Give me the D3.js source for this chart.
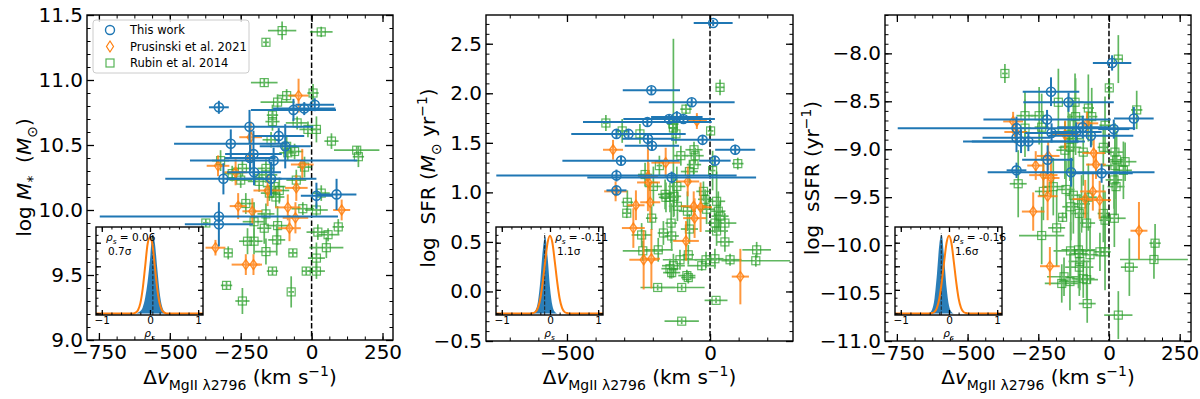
<!DOCTYPE html>
<html>
<head>
<meta charset="utf-8">
<script src="https://cdn.jsdelivr.net/npm/d3@7"></script>
<style>
body { margin: 0; background: #fff; }
text { font-family: "DejaVu Sans", sans-serif; }
</style>
</head>
<body>
<svg id="chart" width="1200" height="399"></svg>
<script>
// ---- this work (blue) : same galaxies in all three panels, dv shared
var blueV = [-327, -327, -327, -311, -285, -219, -217, -205, -203, -143, -134, -116, -93, -64, -26, 11, 17, 88]
var blueVErr = [35, 420, 120, 205, 200, 225, 90, 100, 95, 160, 295, 90, 90, 150, 110, 68, 55, 70]
var blueMass = [10.79, 9.95, 9.89, 10.24, 10.51, 10.64, 10.40, 10.43, 10.29, 10.24, 10.38, 10.57, 10.49, 10.77, 10.78, 10.81, 10.11, 10.12]
var blueMassErr = [0.05, 0.04, 0.17, 0.12, 0.11, 0.13, 0.1, 0.18, 0.1, 0.13, 0.1, 0.06, 0.17, 0.085, 0.05, 0.05, 0.1, 0.12]
var blueSFR = [1.02, 1.17, 1.59, 1.32, 1.59, 1.71, 1.54, 2.03, 1.47, 1.74, 1.15, 1.76, 1.74, 1.91, 1.53, 2.71, 1.32, 1.43]
var blueSFRErr = [0.04, 0.06, 0.05, 0.05, 0.04, 0.04, 0.04, 0.04, 0.05, 0.05, 0.06, 0.06, 0.05, 0.04, 0.04, 0.03, 0.04, 0.05]
var blueSSFR = [-9.22, -8.78, -8.88, -8.92, -8.92, -8.69, -9.11, -8.40, -8.83, -8.51, -9.24, -8.82, -8.77, -8.86, -9.25, -8.10, -8.79, -8.68]
var blueSSFRErr = [0.08, 0.12, 0.15, 0.12, 0.1, 0.1, 0.15, 0.15, 0.1, 0.1, 0.15, 0.1, 0.12, 0.12, 0.1, 0.08, 0.1, 0.12]

// ---- Prusinski et al. 2021 (orange)
var orangeV = [-339, -330, -268, -259, -232, -217, -215, -209, -205, -155, -84, -78, -57, -54, -46, -33, 106]
var orangeVErr = [35, 40, 40, 30, 50, 35, 40, 35, 30, 50, 45, 40, 45, 40, 35, 40, 30]
var orangeMass = [9.71, 10.34, 10.29, 10.03, 9.58, 10.40, 10.56, 9.99, 9.58, 10.15, 10.02, 9.86, 9.94, 10.17, 10.88, 10.35, 10.00]
var orangeMassErr = [0.06, 0.08, 0.1, 0.1, 0.08, 0.1, 0.12, 0.1, 0.08, 0.12, 0.1, 0.1, 0.12, 0.1, 0.13, 0.12, 0.08]
var orangeSFR = [1.43, 1.01, 0.64, 0.87, 0.32, 1.16, 1.10, 0.90, 0.33, 1.30, 0.51, 1.11, 0.86, 0.74, 1.72, 0.85, 0.15]
var orangeSFRErr = [0.1, 0.1, 0.2, 0.15, 0.3, 0.35, 0.2, 0.2, 0.3, 0.15, 0.2, 0.15, 0.15, 0.2, 0.08, 0.25, 0.28]
var orangeSSFR = [-8.71, -8.82, -9.65, -9.17, -9.27, -9.49, -9.07, -10.22, -9.30, -8.85, -9.52, -8.73, -9.44, -9.04, -9.16, -9.53, -9.85]
var orangeSSFRErr = [0.1, 0.12, 0.2, 0.15, 0.2, 0.25, 0.15, 0.2, 0.2, 0.15, 0.2, 0.12, 0.2, 0.15, 0.15, 0.2, 0.3]

// ---- Rubin et al. 2014 (green), rows of [dv, dvErr, value, valueErr]
var greenMass = [
	[-104, 50, 11.38, 0.07], [34, 40, 11.37, 0.04], [-161, 10, 11.29, 0.03], [-167, 47, 10.98, 0.03],
	[5, 20, 10.90, 0.07], [-88, 30, 10.88, 0.05], [-120, 60, 10.83, 0.06], [-138, 20, 10.73, 0.08],
	[-138, 25, 10.68, 0.07], [17, 15, 10.62, 0.10], [70, 25, 10.53, 0.06], [-143, 30, 10.54, 0.06],
	[-88, 35, 10.49, 0.08], [159, 80, 10.46, 0.03], [165, 20, 10.41, 0.08], [-25, 25, 10.33, 0.08],
	[-321, 30, 10.38, 0.08], [-250, 40, 10.23, 0.06], [-161, 40, 10.27, 0.06], [-84, 30, 10.44, 0.06],
	[-51, 40, 10.67, 0.05], [-13, 30, 10.62, 0.06], [-60, 30, 10.45, 0.06], [-244, 35, 10.32, 0.06],
	[-161, 30, 10.32, 0.07], [-185, 40, 10.22, 0.08], [-54, 35, 10.23, 0.08], [-132, 40, 10.18, 0.07],
	[-114, 35, 10.15, 0.1], [-126, 30, 10.10, 0.08], [-149, 30, 10.13, 0.06], [34, 30, 10.13, 0.06],
	[-31, 40, 10.01, 0.05], [17, 40, 10.00, 0.05], [-161, 30, 9.97, 0.08], [-232, 30, 10.05, 0.08],
	[-203, 40, 9.91, 0.15], [-167, 25, 9.86, 0.12], [-120, 40, 9.88, 0.15], [22, 40, 9.83, 0.06],
	[58, 40, 9.81, 0.05], [94, 20, 9.87, 0.06], [-226, 30, 9.76, 0.1], [-203, 30, 9.76, 0.1],
	[-123, 30, 9.77, 0.12], [-161, 40, 9.68, 0.1], [-294, 15, 9.67, 0.05], [-66, 15, 9.67, 0.03],
	[52, 60, 9.71, 0.08], [17, 30, 9.63, 0.12], [-138, 20, 9.53, 0.03], [-19, 15, 9.53, 0.03],
	[17, 30, 9.53, 0.06], [-300, 20, 9.42, 0.03], [-72, 10, 9.37, 0.12], [-244, 25, 9.30, 0.1],
	[-373, 10, 9.90, 0.03], [-280, 30, 10.28, 0.06]
]
var greenSFR = [
	[35, 15, 2.06, 0.08], [-364, 10, 1.70, 0.08], [-84, 20, 1.84, 0.05], [-307, 20, 1.62, 0.12],
	[-245, 30, 1.59, 0.1], [-130, 20, 1.69, 0.1], [-128, 15, 1.65, 0.9], [-119, 25, 1.59, 0.1],
	[2, 10, 1.62, 0.05], [-56, 30, 1.43, 0.08], [-52, 30, 1.37, 0.08], [-56, 25, 1.28, 0.1],
	[-102, 25, 1.37, 0.1], [-177, 10, 1.27, 0.1], [9, 10, 1.22, 0.2], [97, 20, 1.29, 0.06],
	[-227, 25, 1.18, 0.12], [-72, 30, 1.21, 0.12], [-198, 30, 1.06, 0.2], [-116, 30, 1.06, 0.2],
	[-157, 25, 0.98, 0.15], [-154, 25, 0.95, 0.15], [-140, 30, 0.95, 0.15], [-126, 25, 0.96, 0.2],
	[-289, 20, 0.90, 0.12], [-291, 15, 0.79, 0.05], [-114, 30, 0.86, 0.15], [-79, 30, 0.81, 0.2],
	[-23, 25, 1.01, 0.1], [-17, 25, 0.93, 0.1], [-12, 30, 0.83, 0.15], [23, 30, 0.91, 0.3],
	[29, 25, 0.81, 0.2], [35, 30, 0.76, 0.15], [17, 25, 0.69, 0.1], [52, 40, 0.69, 0.1],
	[-204, 20, 0.74, 0.12], [-136, 20, 0.69, 0.2], [-72, 30, 0.63, 0.15], [23, 40, 0.61, 0.15],
	[-239, 35, 0.57, 0.12], [-163, 20, 0.59, 0.12], [-134, 25, 0.56, 0.15], [52, 30, 0.50, 0.1],
	[163, 50, 0.42, 0.08], [-235, 70, 0.41, 0.1], [-181, 50, 0.42, 0.12], [-105, 60, 0.32, 0.1],
	[-128, 40, 0.26, 0.12], [-76, 20, 0.37, 0.1], [-14, 40, 0.32, 0.08], [17, 30, 0.33, 0.1],
	[70, 40, 0.32, 0.06], [160, 120, 0.31, 0.06], [-29, 50, 0.26, 0.05], [-140, 30, 0.23, 0.1],
	[-134, 30, 0.19, 0.06], [-81, 30, 0.16, 0.06], [-76, 25, 0.14, 0.06], [-183, 60, 0.04, 0.03],
	[-99, 80, 0.04, 0.03], [21, 40, -0.09, 0.03], [-99, 60, -0.30, 0.03]
]
var greenSSFR = [
	[-368, 10, -8.21, 0.1], [33, 15, -8.06, 0.25], [1, 10, -8.36, 0.1], [-179, 20, -8.51, 0.35],
	[-120, 30, -8.51, 0.3], [-73, 20, -8.57, 0.35], [98, 20, -8.59, 0.2], [-297, 30, -8.65, 0.25],
	[-247, 30, -8.65, 0.3], [-61, 20, -8.66, 0.3], [-118, 30, -8.66, 0.4], [-297, 20, -8.78, 0.3],
	[-238, 25, -8.77, 0.35], [-14, 20, -8.75, 0.3], [-144, 30, -8.85, 0.4], [-126, 30, -8.89, 0.4],
	[-138, 40, -8.98, 0.35], [-156, 30, -9.01, 0.3], [-91, 20, -9.03, 0.35], [21, 30, -9.03, 0.3],
	[27, 30, -9.11, 0.3], [21, 40, -9.17, 0.35], [57, 40, -9.13, 0.2], [51, 30, -9.22, 0.3],
	[-20, 20, -8.98, 0.2], [-321, 30, -9.36, 0.35], [-232, 30, -9.44, 0.3], [-197, 40, -9.39, 0.3],
	[-152, 30, -9.42, 0.3], [-126, 30, -9.48, 0.4], [-135, 30, -9.60, 0.35], [-97, 30, -9.57, 0.3],
	[-73, 30, -9.50, 0.35], [18, 30, -9.32, 0.3], [25, 30, -9.39, 0.3], [-164, 15, -9.71, 0.05],
	[-105, 30, -9.67, 0.2], [19, 40, -9.72, 0.3], [-79, 30, -9.77, 0.3], [-20, 20, -9.67, 0.3],
	[-14, 20, -9.74, 0.3], [-185, 30, -9.82, 0.4], [-238, 80, -9.90, 0.3], [163, 20, -9.98, 0.2],
	[159, 120, -10.15, 0.2], [72, 30, -10.23, 0.3], [-136, 60, -10.06, 0.3], [-108, 60, -10.05, 0.4],
	[-105, 30, -10.09, 0.3], [-67, 30, -10.10, 0.3], [-32, 20, -10.07, 0.2], [-14, 20, -10.07, 0.4],
	[-103, 40, -10.17, 0.3], [-105, 50, -10.23, 0.3], [-159, 60, -10.33, 0.2], [-167, 60, -10.40, 0.2],
	[-138, 40, -10.38, 0.3], [-91, 40, -10.35, 0.2], [-79, 40, -10.36, 0.2], [-77, 30, -10.61, 0.2],
	[33, 50, -10.73, 0.25]
]

// ---- insets: bootstrapped rho_s (blue) vs null distribution (orange)
var rhoGrid = [-0.4, -0.35, -0.3, -0.25, -0.2, -0.15, -0.1, -0.05, 0, 0.05, 0.1, 0.15, 0.2, 0.25, 0.3, 0.35, 0.4]
var nullMass = [0, 0, 0.01, 0.04, 0.13, 0.32, 0.6, 0.88, 0.97, 0.88, 0.6, 0.32, 0.13, 0.04, 0.01, 0, 0]
var nullSFR = [0, 0.005, 0.02, 0.07, 0.19, 0.4, 0.66, 0.9, 0.99, 0.9, 0.66, 0.4, 0.19, 0.07, 0.02, 0.005, 0]
var nullSSFR = [0, 0.005, 0.02, 0.07, 0.19, 0.4, 0.66, 0.9, 0.99, 0.9, 0.66, 0.4, 0.19, 0.07, 0.02, 0.005, 0]
var bootMass = [0, 0, 0, 0.01, 0.03, 0.08, 0.2, 0.4, 0.68, 1.0, 0.9, 0.58, 0.27, 0.09, 0.02, 0, 0]
var bootSFR = [0, 0.01, 0.04, 0.15, 0.42, 0.8, 0.98, 0.72, 0.33, 0.1, 0.02, 0, 0, 0, 0, 0, 0]
var bootSSFR = [0.01, 0.05, 0.19, 0.5, 0.88, 1.0, 0.7, 0.33, 0.1, 0.02, 0, 0, 0, 0, 0, 0, 0]
var rhoValues = [0.06, -0.11, -0.16]
var rhoLabels = ['0.06', '-0.11', '-0.16']
var sigmaLabels = ['0.7σ', '1.1σ', '1.6σ']

// ---- tick labels
var dvTicks = [-750, -500, -250, 0, 250]
var dvTicksSFR = [-500, 0]
var massTicks = [9.0, 9.5, 10.0, 10.5, 11.0, 11.5]
var sfrTicks = [-0.5, 0.0, 0.5, 1.0, 1.5, 2.0, 2.5]
var ssfrTicks = [-11.0, -10.5, -10.0, -9.5, -9.0, -8.5, -8.0]
var insetTicks = [-1, 0, 1]

var legendNames = ['This work', 'Prusinski et al. 2021', 'Rubin et al. 2014']

var BLUE = '#1f77b4', ORANGE = '#ff7f0e', GREEN = '#2ca02c'

var svg = d3.select('#chart')

function rows(v, dv, y, dy) {
	return d3.zip(v, dv, y, dy)
}

var panels = [
	{
		left: 87, right: 393, top: 15, bottom: 340,
		xDomain: [-792, 287], yDomain: [9.0, 11.5],
		xTicks: dvTicks, xMinor: 62.5, yTicks: massTicks,
		blue: rows(blueV, blueVErr, blueMass, blueMassErr),
		orange: rows(orangeV, orangeVErr, orangeMass, orangeMassErr),
		green: greenMass,
		yLabel: [{t: 'log '}, {t: 'M', it: 1}, {t: '*', sub: 1}, {t: '  ('}, {t: 'M', it: 1}, {t: '⊙', sub: 1}, {t: ')'}],
		yLabelX: 31,
		inset: [96, 203], boot: bootMass, nul: nullMass, textX: 106
	},
	{
		left: 486, right: 793, top: 15, bottom: 341,
		xDomain: [-783, 290], yDomain: [-0.5, 2.79],
		xTicks: dvTicksSFR, xMinor: 100, yTicks: sfrTicks,
		blue: rows(blueV, blueVErr, blueSFR, blueSFRErr),
		orange: rows(orangeV, orangeVErr, orangeSFR, orangeSFRErr),
		green: greenSFR,
		yLabel: [{t: 'log  SFR ('}, {t: 'M', it: 1}, {t: '⊙', sub: 1}, {t: ' yr'}, {t: '−1', sup: 1}, {t: ')'}],
		yLabelX: 435,
		inset: [496, 603], boot: bootSFR, nul: nullSFR, textX: 555
	},
	{
		left: 885, right: 1191, top: 15, bottom: 341,
		xDomain: [-792, 290], yDomain: [-11.0, -7.6],
		xTicks: dvTicks, xMinor: 62.5, yTicks: ssfrTicks,
		blue: rows(blueV, blueVErr, blueSSFR, blueSSFRErr),
		orange: rows(orangeV, orangeVErr, orangeSSFR, orangeSSFRErr),
		green: greenSSFR,
		yLabel: [{t: 'log  sSFR (yr'}, {t: '−1', sup: 1}, {t: ')'}],
		yLabelX: 819,
		inset: [895, 1002], boot: bootSSFR, nul: nullSSFR, textX: 953
	}
]

// text with italic / sub / superscript runs
function richText(sel, runs, size) {
	var shift = 0
	runs.forEach(function(r) {
		var target = r.sub ? size * 0.28 : (r.sup ? -size * 0.38 : 0)
		var ts = sel.append('tspan').text(r.t).attr('dy', target - shift)
		if (r.sub || r.sup) ts.attr('font-size', size * 0.7)
		if (r.it) ts.attr('font-style', 'italic')
		shift = target
	})
	return sel
}

function diamond(cx, cy, w, h) {
	return 'M' + cx + ',' + (cy - h) + 'L' + (cx + w) + ',' + cy + 'L' + cx + ',' + (cy + h) + 'L' + (cx - w) + ',' + cy + 'Z'
}

function drawErrorbars(g, x, y, data, color, width, opacity) {
	var eb = g.append('g').attr('stroke', color).attr('stroke-width', width).attr('opacity', opacity)
	eb.selectAll('line.h').data(data).enter().append('line')
		.attr('x1', function(d) { return x(d[0] - d[1]) })
		.attr('x2', function(d) { return x(d[0] + d[1]) })
		.attr('y1', function(d) { return y(d[2]) })
		.attr('y2', function(d) { return y(d[2]) })
	eb.selectAll('line.v').data(data).enter().append('line')
		.attr('x1', function(d) { return x(d[0]) })
		.attr('x2', function(d) { return x(d[0]) })
		.attr('y1', function(d) { return y(d[2] - d[3]) })
		.attr('y2', function(d) { return y(d[2] + d[3]) })
}

function frameTicks(g, x, y, p, xMaj, xMin, yMaj, yMin, big, small) {
	var sides = [
		[d3.axisBottom(x), 'translate(0,' + p.bottom + ')', xMaj, xMin],
		[d3.axisTop(x), 'translate(0,' + p.top + ')', xMaj, xMin],
		[d3.axisLeft(y), 'translate(' + p.left + ',0)', yMaj, yMin],
		[d3.axisRight(y), 'translate(' + p.right + ',0)', yMaj, yMin]
	]
	sides.forEach(function(s) {
		var minor = g.append('g').attr('transform', s[1])
			.call(s[0].tickValues(s[3]).tickSizeInner(-small).tickSizeOuter(0).tickFormat(''))
		minor.select('.domain').remove()
		minor.selectAll('line').attr('stroke', '#000').attr('stroke-width', 1)
		var major = g.append('g').attr('transform', s[1])
			.call(s[0].tickValues(s[2]).tickSizeInner(-big).tickSizeOuter(0).tickFormat(''))
		major.select('.domain').remove()
		major.selectAll('line').attr('stroke', '#000').attr('stroke-width', 1.3)
	})
	g.append('rect')
		.attr('x', p.left).attr('y', p.top)
		.attr('width', p.right - p.left).attr('height', p.bottom - p.top)
		.attr('fill', 'none').attr('stroke', '#000').attr('stroke-width', 1.4)
}

function drawPanel(p, i) {
	var g = svg.append('g')
	var x = d3.scaleLinear().domain(p.xDomain).range([p.left, p.right])
	var y = d3.scaleLinear().domain(p.yDomain).range([p.bottom, p.top])

	g.append('clipPath').attr('id', 'clip' + i).append('rect')
		.attr('x', p.left).attr('y', p.top)
		.attr('width', p.right - p.left).attr('height', p.bottom - p.top)
	var plot = g.append('g').attr('clip-path', 'url(#clip' + i + ')')

	// dv = 0
	plot.append('line')
		.attr('x1', x(0)).attr('x2', x(0)).attr('y1', p.top).attr('y2', p.bottom)
		.attr('stroke', '#000').attr('stroke-width', 1.5).attr('stroke-dasharray', '5.5,2.4')

	// Rubin
	drawErrorbars(plot, x, y, p.green, GREEN, 1.7, 0.75)
	plot.append('g').selectAll('rect').data(p.green).enter().append('rect')
		.attr('x', function(d) { return x(d[0]) - 4 })
		.attr('y', function(d) { return y(d[2]) - 4 })
		.attr('width', 8).attr('height', 8)
		.attr('fill', 'none').attr('stroke', GREEN).attr('stroke-width', 1.2).attr('opacity', 0.75)

	// Prusinski
	drawErrorbars(plot, x, y, p.orange, ORANGE, 2, 0.8)
	plot.append('g').selectAll('path').data(p.orange).enter().append('path')
		.attr('d', function(d) { return diamond(x(d[0]), y(d[2]), 3.5, 5) })
		.attr('fill', 'none').attr('stroke', ORANGE).attr('stroke-width', 1.4).attr('opacity', 0.85)

	// this work
	drawErrorbars(plot, x, y, p.blue, BLUE, 2, 1)
	plot.append('g').selectAll('circle').data(p.blue).enter().append('circle')
		.attr('cx', function(d) { return x(d[0]) })
		.attr('cy', function(d) { return y(d[2]) })
		.attr('r', 4.5)
		.attr('fill', 'none').attr('stroke', BLUE).attr('stroke-width', 1.6)

	// ticks + frame
	var xMin = d3.range(Math.ceil(p.xDomain[0] / p.xMinor) * p.xMinor, p.xDomain[1], p.xMinor)
	var yMin = d3.range(Math.ceil(p.yDomain[0] * 10 - 1e-6), p.yDomain[1] * 10 + 1e-6).map(function(v) { return v / 10 })
	frameTicks(g, x, y, p, p.xTicks, xMin, p.yTicks, yMin, 7, 3.5)

	// tick labels
	var xl = g.append('g').attr('transform', 'translate(0,' + p.bottom + ')')
		.call(d3.axisBottom(x).tickValues(p.xTicks).tickSize(0).tickPadding(5).tickFormat(d3.format('d')))
	var yl = g.append('g').attr('transform', 'translate(' + p.left + ',0)')
		.call(d3.axisLeft(y).tickValues(p.yTicks).tickSize(0).tickPadding(4).tickFormat(d3.format('.1f')))
	;[xl, yl].forEach(function(a) {
		a.select('.domain').remove()
		a.selectAll('text').attr('font-size', 20).attr('font-family', '"DejaVu Sans", sans-serif').attr('fill', '#000')
	})

	// axis labels
	richText(g.append('text')
		.attr('x', (p.left + p.right) / 2).attr('y', 384)
		.attr('text-anchor', 'middle').attr('font-size', 20).style('white-space', 'pre'),
		[{t: 'Δ'}, {t: 'v', it: 1}, {t: 'MgII λ2796', sub: 1}, {t: ' (km s'}, {t: '−1', sup: 1}, {t: ')'}], 20)
	richText(g.append('text')
		.attr('transform', 'translate(' + p.yLabelX + ',' + ((p.top + p.bottom) / 2) + ') rotate(-90)')
		.attr('text-anchor', 'middle').attr('font-size', 20).style('white-space', 'pre'),
		p.yLabel, 20)

	drawInset(g, p, i)
}

function drawInset(g, p, i) {
	var top = 227, bottom = 315
	var ig = g.append('g')
	var ix = d3.scaleLinear().domain([-1.12, 1.1]).range(p.inset)
	var iy = d3.scaleLinear().domain([-0.02, 1.1]).range([bottom, top])

	ig.append('rect')
		.attr('x', p.inset[0]).attr('y', top)
		.attr('width', p.inset[1] - p.inset[0]).attr('height', bottom - top)
		.attr('fill', '#fff')

	var area = d3.area()
		.x(function(d) { return ix(d[0]) })
		.y0(iy(0))
		.y1(function(d) { return iy(d[1]) })
		.curve(d3.curveMonotoneX)
	ig.append('path').datum(d3.zip(rhoGrid, p.boot))
		.attr('d', area).attr('fill', BLUE).attr('opacity', 0.95)

	ig.append('line')
		.attr('x1', ix(rhoValues[i])).attr('x2', ix(rhoValues[i]))
		.attr('y1', bottom).attr('y2', top + 6)
		.attr('stroke', '#222').attr('stroke-width', 1).attr('stroke-dasharray', '3.5,1.6')

	var line = d3.line()
		.x(function(d) { return ix(d[0]) })
		.y(function(d) { return iy(d[1]) })
		.curve(d3.curveMonotoneX)
	var pts = [[-1.12, 0]].concat(d3.zip(rhoGrid, p.nul)).concat([[1.1, 0]])
	ig.append('path').datum(pts)
		.attr('d', line).attr('fill', 'none').attr('stroke', ORANGE).attr('stroke-width', 2)

	var box = {left: p.inset[0], right: p.inset[1], top: top, bottom: bottom}
	var xMin = d3.range(-10, 11, 2).map(function(v) { return v / 10 })
	frameTicks(ig, ix, iy, box, insetTicks, xMin, [0, 0.3, 0.6, 0.9], d3.range(0, 11).map(function(v) { return v / 10 }), 5, 2.5)

	var xl = ig.append('g').attr('transform', 'translate(0,' + bottom + ')')
		.call(d3.axisBottom(ix).tickValues(insetTicks).tickSize(0).tickPadding(2).tickFormat(d3.format('d')))
	xl.select('.domain').remove()
	xl.selectAll('text').attr('font-size', 10.5).attr('font-family', '"DejaVu Sans", sans-serif').attr('fill', '#000')

	richText(ig.append('text')
		.attr('x', (p.inset[0] + p.inset[1]) / 2).attr('y', 337)
		.attr('text-anchor', 'middle').attr('font-size', 10.5),
		[{t: 'ρ', it: 1}, {t: 's', sub: 1, it: 1}], 10.5)

	richText(ig.append('text')
		.attr('x', p.textX).attr('y', 241).attr('font-size', 10.5).style('white-space', 'pre'),
		[{t: 'ρ', it: 1}, {t: 's', sub: 1, it: 1}, {t: ' = ' + rhoLabels[i]}], 10.5)
	ig.append('text')
		.attr('x', p.textX + 2).attr('y', 255).attr('font-size', 10.5)
		.text(sigmaLabels[i])
}

panels.forEach(drawPanel)

// legend (left panel)
var lg = svg.append('g')
lg.append('rect')
	.attr('x', 93).attr('y', 20).attr('width', 156).attr('height', 53).attr('rx', 3)
	.attr('fill', '#fff').attr('fill-opacity', 0.8).attr('stroke', '#ccc').attr('stroke-width', 1)
var ly = d3.scalePoint().domain(legendNames).range([30, 63])
lg.append('circle').attr('cx', 110).attr('cy', ly(legendNames[0])).attr('r', 4.5)
	.attr('fill', 'none').attr('stroke', BLUE).attr('stroke-width', 1.4)
lg.append('path').attr('d', diamond(110, ly(legendNames[1]), 3.5, 5.5))
	.attr('fill', 'none').attr('stroke', ORANGE).attr('stroke-width', 1.2)
lg.append('rect').attr('x', 106).attr('y', ly(legendNames[2]) - 4).attr('width', 8).attr('height', 8)
	.attr('fill', 'none').attr('stroke', GREEN).attr('stroke-width', 1.2).attr('opacity', 0.8)
lg.selectAll('text.name').data(legendNames).enter().append('text')
	.attr('x', 130).attr('y', function(d) { return ly(d) + 4 })
	.attr('font-size', 11.5)
	.text(function(d) { return d })
</script>
</body>
</html>
